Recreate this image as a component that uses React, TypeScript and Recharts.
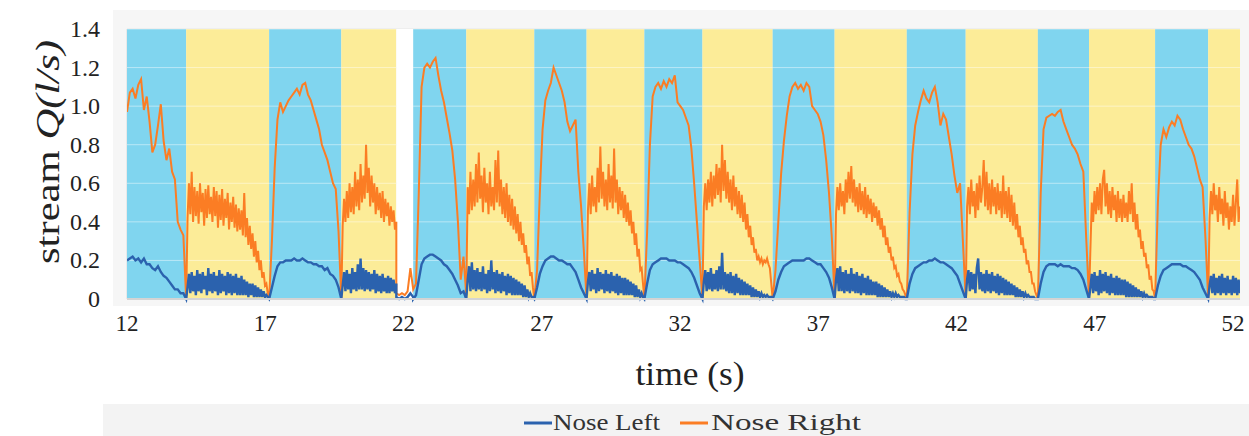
import React from 'react';
import {
  LineChart,
  Line,
  XAxis,
  YAxis,
  CartesianGrid,
  ReferenceArea,
  ReferenceLine,
} from 'recharts';

const xTicks = [12, 17, 22, 27, 32, 37, 42, 47, 52];
const yTicks = [0, 0.2, 0.4, 0.6, 0.8, 1.0, 1.2, 1.4];

// breathing phases: edges in seconds, one kind per interval
const phaseEdges = [
  12, 14.14, 17.14, 19.75, 21.74, 22.35, 24.27, 26.73, 28.62, 30.71,
  32.81, 35.35, 37.59, 40.2, 42.33, 44.94, 46.79, 49.18, 51.1, 52.25,
];
const phaseKinds = [
  'in', 'out', 'in', 'out', 'pause', 'in', 'out', 'in', 'out', 'in',
  'out', 'in', 'out', 'in', 'out', 'in', 'out', 'in', 'out',
];

// samples per phase, evenly spaced from the phase start to its end
const noseRightByPhase = [
  // 12.00 - 14.14
  [0.97, 1.07, 1.09, 1.04, 1.11, 1.14, 0.98, 1.05, 0.92, 0.76, 0.80, 0.90, 1.01, 0.82, 0.72, 0.78, 0.66, 0.62, 0.40, 0.36, 0.33, 0.00],
  // 14.14 - 17.14
  [0.00, 0.42, 0.60, 0.44, 0.66, 0.40, 0.58, 0.43, 0.56, 0.39,
   0.60, 0.45, 0.55, 0.38, 0.57, 0.42, 0.59, 0.44, 0.53, 0.40,
   0.58, 0.43, 0.56, 0.37, 0.54, 0.41, 0.57, 0.38, 0.52, 0.42,
   0.55, 0.36, 0.50, 0.40, 0.53, 0.37, 0.49, 0.35, 0.47, 0.36,
   0.46, 0.33, 0.55, 0.32, 0.42, 0.28, 0.38, 0.26, 0.34, 0.22,
   0.30, 0.19, 0.25, 0.15, 0.20, 0.11, 0.14, 0.07, 0.08, 0.03, 0.00],
  // 17.14 - 19.75
  [0.00, 0.30, 0.68, 0.93, 1.02, 0.97, 1.00, 1.03, 1.05, 1.07, 1.09, 1.06, 1.11, 1.12, 1.06, 1.03, 0.98, 0.93, 0.88, 0.80, 0.76, 0.72, 0.66, 0.60, 0.57, 0.35, 0.00],
  // 19.75 - 21.74
  [0.00, 0.38, 0.52, 0.40, 0.56, 0.42, 0.60, 0.45, 0.58, 0.44,
   0.66, 0.48, 0.62, 0.46, 0.70, 0.50, 0.64, 0.52, 0.80, 0.55,
   0.68, 0.48, 0.64, 0.50, 0.60, 0.44, 0.58, 0.46, 0.55, 0.42,
   0.56, 0.40, 0.52, 0.43, 0.50, 0.38, 0.48, 0.40, 0.46, 0.36, 0.40],
  // 21.74 - 22.35 pause
  [0.03, 0.02, 0.03, 0.02, 0.04, 0.16, 0.05],
  // 22.35 - 24.27
  [0.05, 0.08, 0.55, 1.10, 1.20, 1.22, 1.20, 1.23, 1.25, 1.16, 1.08, 1.02, 0.94, 0.86, 0.77, 0.62, 0.40, 0.10, 0.22, 0.02],
  // 24.27 - 26.73
  [0.02, 0.58, 0.44, 0.66, 0.46, 0.62, 0.48, 0.70, 0.50, 0.76,
   0.52, 0.64, 0.45, 0.68, 0.50, 0.60, 0.44, 0.66, 0.48, 0.58,
   0.46, 0.72, 0.50, 0.77, 0.48, 0.62, 0.44, 0.58, 0.42, 0.60,
   0.40, 0.54, 0.38, 0.52, 0.36, 0.48, 0.34, 0.44, 0.30, 0.40,
   0.28, 0.34, 0.24, 0.28, 0.18, 0.22, 0.12, 0.14, 0.06, 0.00],
  // 26.73 - 28.62
  [0.00, 0.15, 0.55, 0.88, 1.03, 1.08, 1.12, 1.20, 1.16, 1.12, 1.08, 1.02, 0.92, 0.87, 0.90, 0.93, 0.66, 0.48, 0.25, 0.00],
  // 28.62 - 30.71
  [0.00, 0.46, 0.60, 0.44, 0.64, 0.48, 0.58, 0.45, 0.68, 0.50,
   0.79, 0.52, 0.66, 0.48, 0.62, 0.46, 0.70, 0.50, 0.64, 0.47,
   0.78, 0.50, 0.62, 0.44, 0.58, 0.46, 0.56, 0.42, 0.54, 0.40,
   0.50, 0.38, 0.46, 0.34, 0.40, 0.28, 0.34, 0.22, 0.26, 0.15, 0.16, 0.08, 0.00],
  // 30.71 - 32.81
  [0.00, 0.35, 0.80, 1.05, 1.10, 1.12, 1.09, 1.13, 1.10, 1.14, 1.12, 1.16, 1.02, 1.00, 0.98, 0.94, 0.90, 0.78, 0.60, 0.40, 0.20, 0.00],
  // 32.81 - 35.35
  [0.00, 0.48, 0.60, 0.46, 0.62, 0.50, 0.66, 0.48, 0.64, 0.52,
   0.70, 0.54, 0.68, 0.50, 0.80, 0.56, 0.72, 0.52, 0.66, 0.50,
   0.62, 0.46, 0.64, 0.48, 0.58, 0.44, 0.56, 0.42, 0.54, 0.40,
   0.50, 0.36, 0.44, 0.32, 0.38, 0.28, 0.32, 0.24, 0.26, 0.20,
   0.22, 0.19, 0.21, 0.18, 0.20, 0.19, 0.21, 0.18, 0.16, 0.08, 0.00],
  // 35.35 - 37.59
  [0.00, 0.15, 0.40, 0.65, 0.82, 0.95, 1.05, 1.10, 1.12, 1.09, 1.11, 1.08, 1.12, 1.10, 1.00, 0.98, 0.96, 0.92, 0.85, 0.72, 0.55, 0.32, 0.00],
  // 37.59 - 40.20
  [0.00, 0.44, 0.58, 0.46, 0.60, 0.48, 0.56, 0.44, 0.62, 0.50,
   0.66, 0.52, 0.69, 0.50, 0.62, 0.48, 0.58, 0.45, 0.60, 0.46,
   0.56, 0.44, 0.58, 0.42, 0.54, 0.44, 0.52, 0.40, 0.50, 0.42,
   0.48, 0.38, 0.46, 0.36, 0.42, 0.32, 0.38, 0.28, 0.32, 0.24,
   0.27, 0.20, 0.22, 0.16, 0.17, 0.12, 0.13, 0.09, 0.08, 0.05, 0.04, 0.02, 0.00],
  // 40.20 - 42.33
  [0.00, 0.45, 0.75, 0.90, 0.97, 1.03, 1.08, 1.04, 1.02, 1.07, 1.10, 1.02, 0.90, 0.96, 0.93, 0.84, 0.75, 0.64, 0.55, 0.60, 0.30, 0.00],
  // 42.33 - 44.94
  [0.00, 0.48, 0.58, 0.44, 0.62, 0.48, 0.56, 0.42, 0.60, 0.46,
   0.64, 0.50, 0.58, 0.72, 0.48, 0.66, 0.46, 0.60, 0.44, 0.62,
   0.48, 0.58, 0.44, 0.60, 0.46, 0.56, 0.42, 0.64, 0.44, 0.56,
   0.42, 0.58, 0.40, 0.54, 0.38, 0.50, 0.36, 0.44, 0.32, 0.38,
   0.28, 0.32, 0.24, 0.26, 0.18, 0.20, 0.14, 0.14, 0.08, 0.08, 0.04, 0.02, 0.00],
  // 44.94 - 46.79
  [0.00, 0.55, 0.88, 0.94, 0.95, 0.96, 0.95, 0.97, 0.98, 0.92, 0.88, 0.84, 0.80, 0.78, 0.75, 0.70, 0.66, 0.32, 0.00],
  // 46.79 - 49.18
  [0.00, 0.26, 0.50, 0.40, 0.56, 0.44, 0.58, 0.46, 0.60, 0.44,
   0.62, 0.67, 0.48, 0.60, 0.44, 0.56, 0.42, 0.58, 0.46, 0.54,
   0.40, 0.56, 0.42, 0.52, 0.40, 0.54, 0.42, 0.50, 0.40, 0.56,
   0.44, 0.60, 0.40, 0.50, 0.36, 0.44, 0.32, 0.36, 0.26, 0.30,
   0.22, 0.24, 0.16, 0.18, 0.10, 0.12, 0.05, 0.04, 0.00],
  // 49.18 - 51.10
  [0.00, 0.50, 0.80, 0.88, 0.84, 0.89, 0.92, 0.90, 0.95, 0.93, 0.88, 0.84, 0.80, 0.78, 0.74, 0.68, 0.62, 0.58, 0.32, 0.00],
  // 51.10 - 52.25
  [0.00, 0.42, 0.56, 0.44, 0.60, 0.46, 0.54, 0.40, 0.58, 0.44,
   0.52, 0.38, 0.56, 0.42, 0.50, 0.36, 0.48, 0.40, 0.54, 0.38,
   0.50, 0.62, 0.40, 0.48],
];

const noseLeftByPhase = [
  // 12.00 - 14.14
  [0.20, 0.21, 0.22, 0.20, 0.21, 0.19, 0.21, 0.18, 0.18, 0.16, 0.15, 0.17, 0.14, 0.12, 0.11, 0.09, 0.07, 0.05, 0.05, 0.03, 0.03, 0.00],
  // 14.14 - 17.14
  [0.00, 0.06, 0.13, 0.03, 0.14, 0.04, 0.12, 0.02, 0.15, 0.04,
   0.13, 0.03, 0.14, 0.05, 0.12, 0.02, 0.16, 0.04, 0.13, 0.03,
   0.14, 0.04, 0.12, 0.02, 0.15, 0.03, 0.13, 0.04, 0.12, 0.02,
   0.14, 0.03, 0.13, 0.02, 0.12, 0.03, 0.13, 0.02, 0.11, 0.02,
   0.12, 0.02, 0.10, 0.02, 0.09, 0.01, 0.08, 0.02, 0.08, 0.01,
   0.07, 0.01, 0.06, 0.01, 0.05, 0.01, 0.04, 0.01, 0.02, 0.01, 0.00],
  // 17.14 - 19.75
  [0.00, 0.06, 0.12, 0.17, 0.19, 0.19, 0.20, 0.20, 0.20, 0.21, 0.20, 0.20, 0.21, 0.20, 0.19, 0.19, 0.18, 0.18, 0.17, 0.17, 0.15, 0.16, 0.13, 0.12, 0.10, 0.06, 0.00],
  // 19.75 - 21.74
  [0.00, 0.07, 0.14, 0.04, 0.15, 0.05, 0.13, 0.03, 0.16, 0.05,
   0.14, 0.04, 0.18, 0.05, 0.21, 0.05, 0.16, 0.04, 0.15, 0.05,
   0.14, 0.04, 0.13, 0.05, 0.15, 0.03, 0.13, 0.04, 0.12, 0.03,
   0.13, 0.04, 0.11, 0.03, 0.12, 0.03, 0.11, 0.04, 0.10, 0.03, 0.08],
  // 21.74 - 22.35 pause
  [0.01, 0.00, 0.01, 0.00, 0.01, 0.03, 0.01],
  // 22.35 - 24.27
  [0.00, 0.02, 0.10, 0.18, 0.21, 0.22, 0.23, 0.23, 0.22, 0.21, 0.20, 0.18, 0.17, 0.15, 0.13, 0.10, 0.07, 0.03, 0.04, 0.00],
  // 24.27 - 26.73
  [0.00, 0.10, 0.17, 0.04, 0.19, 0.05, 0.15, 0.04, 0.16, 0.05,
   0.14, 0.04, 0.17, 0.05, 0.13, 0.03, 0.15, 0.04, 0.20, 0.05,
   0.14, 0.03, 0.15, 0.04, 0.13, 0.03, 0.14, 0.04, 0.12, 0.02,
   0.13, 0.03, 0.12, 0.02, 0.11, 0.02, 0.10, 0.02, 0.09, 0.02,
   0.08, 0.01, 0.07, 0.01, 0.05, 0.01, 0.03, 0.01, 0.01, 0.00],
  // 26.73 - 28.62
  [0.00, 0.06, 0.13, 0.17, 0.20, 0.21, 0.22, 0.22, 0.21, 0.20, 0.20, 0.19, 0.18, 0.18, 0.16, 0.14, 0.10, 0.06, 0.03, 0.00],
  // 28.62 - 30.71
  [0.00, 0.09, 0.14, 0.04, 0.15, 0.05, 0.13, 0.03, 0.16, 0.04,
   0.14, 0.05, 0.13, 0.03, 0.15, 0.04, 0.13, 0.03, 0.14, 0.04,
   0.12, 0.03, 0.13, 0.02, 0.12, 0.03, 0.11, 0.02, 0.11, 0.02,
   0.10, 0.02, 0.09, 0.02, 0.08, 0.01, 0.07, 0.01, 0.05, 0.01, 0.03, 0.01, 0.00],
  // 30.71 - 32.81
  [0.00, 0.08, 0.15, 0.18, 0.19, 0.20, 0.21, 0.21, 0.21, 0.20, 0.20, 0.20, 0.19, 0.19, 0.18, 0.17, 0.16, 0.14, 0.11, 0.07, 0.03, 0.00],
  // 32.81 - 35.35
  [0.00, 0.09, 0.15, 0.04, 0.14, 0.05, 0.16, 0.04, 0.13, 0.05,
   0.15, 0.04, 0.17, 0.05, 0.24, 0.05, 0.14, 0.04, 0.13, 0.03,
   0.14, 0.03, 0.12, 0.02, 0.13, 0.03, 0.11, 0.02, 0.10, 0.02,
   0.09, 0.02, 0.08, 0.02, 0.07, 0.01, 0.06, 0.01, 0.05, 0.01,
   0.04, 0.01, 0.03, 0.01, 0.02, 0.01, 0.02, 0.01, 0.01, 0.01, 0.00],
  // 35.35 - 37.59
  [0.00, 0.04, 0.10, 0.14, 0.17, 0.18, 0.19, 0.20, 0.20, 0.20, 0.20, 0.20, 0.21, 0.21, 0.20, 0.19, 0.18, 0.18, 0.16, 0.14, 0.11, 0.06, 0.00],
  // 37.59 - 40.20
  [0.00, 0.10, 0.16, 0.04, 0.17, 0.04, 0.14, 0.03, 0.15, 0.04,
   0.13, 0.03, 0.16, 0.04, 0.13, 0.03, 0.14, 0.03, 0.12, 0.02,
   0.13, 0.03, 0.11, 0.02, 0.12, 0.02, 0.10, 0.02, 0.09, 0.02,
   0.09, 0.01, 0.08, 0.01, 0.07, 0.01, 0.06, 0.01, 0.05, 0.01,
   0.04, 0.01, 0.03, 0.01, 0.03, 0.01, 0.02, 0.01, 0.01, 0.01, 0.01, 0.00, 0.00],
  // 40.20 - 42.33
  [0.00, 0.08, 0.13, 0.16, 0.17, 0.18, 0.19, 0.19, 0.20, 0.20, 0.21, 0.20, 0.19, 0.19, 0.18, 0.17, 0.16, 0.14, 0.12, 0.08, 0.04, 0.00],
  // 42.33 - 44.94
  [0.00, 0.10, 0.15, 0.04, 0.14, 0.05, 0.13, 0.03, 0.16, 0.21,
   0.05, 0.14, 0.04, 0.13, 0.03, 0.15, 0.04, 0.13, 0.03, 0.14,
   0.04, 0.12, 0.03, 0.13, 0.02, 0.12, 0.03, 0.11, 0.02, 0.10,
   0.02, 0.09, 0.02, 0.08, 0.02, 0.07, 0.01, 0.06, 0.01, 0.05,
   0.01, 0.04, 0.01, 0.03, 0.01, 0.02, 0.01, 0.01, 0.01, 0.01, 0.00, 0.00, 0.00],
  // 44.94 - 46.79
  [0.00, 0.08, 0.14, 0.17, 0.18, 0.18, 0.18, 0.17, 0.18, 0.17, 0.17, 0.17, 0.16, 0.16, 0.15, 0.13, 0.10, 0.05, 0.00],
  // 46.79 - 49.18
  [0.00, 0.06, 0.13, 0.03, 0.14, 0.04, 0.12, 0.02, 0.15, 0.03,
   0.13, 0.04, 0.14, 0.03, 0.12, 0.02, 0.13, 0.03, 0.11, 0.02,
   0.12, 0.02, 0.11, 0.02, 0.10, 0.02, 0.10, 0.01, 0.09, 0.01,
   0.08, 0.01, 0.07, 0.01, 0.06, 0.01, 0.05, 0.01, 0.04, 0.01,
   0.03, 0.01, 0.02, 0.01, 0.01, 0.01, 0.01, 0.00, 0.00],
  // 49.18 - 51.10
  [0.00, 0.07, 0.12, 0.15, 0.16, 0.17, 0.18, 0.18, 0.18, 0.18, 0.17, 0.17, 0.16, 0.15, 0.14, 0.12, 0.10, 0.06, 0.03, 0.00],
  // 51.10 - 52.25
  [0.00, 0.07, 0.12, 0.03, 0.13, 0.02, 0.11, 0.03, 0.12, 0.02,
   0.13, 0.03, 0.11, 0.02, 0.12, 0.03, 0.10, 0.02, 0.12, 0.03,
   0.11, 0.02, 0.10, 0.03],
];

const phaseFill: Record<string, string> = {
  in: '#80d5ef',
  out: '#fcec98',
  pause: '#ffffff',
};

const toSeries = (byPhase: number[][]) =>
  byPhase.flatMap((vals, i) => {
    const from = phaseEdges[i];
    const to = phaseEdges[i + 1];
    return vals.map((v, k) => ({ t: from + (k * (to - from)) / (vals.length - 1), v }));
  });

const leftSeries = toSeries(noseLeftByPhase);
const rightSeries = toSeries(noseRightByPhase);

const FONT = '"Liberation Serif", "DejaVu Serif", serif';

const XTick = ({ x, y, payload }: any) => (
  <text x={x} y={y + 32} textAnchor="middle" fontFamily={FONT} fontSize={23} fill="#222">
    {payload.value}
  </text>
);

const YTick = ({ x, y, payload }: any) => (
  <text x={x} y={y + 8} textAnchor="end" fontFamily={FONT} fontSize={24} fill="#222">
    {payload.value === 0 ? '0' : Number(payload.value).toFixed(1)}
  </text>
);

const YTitle = () => (
  <text
    transform="translate(47,152) rotate(-90)"
    textAnchor="middle"
    dominantBaseline="central"
    fontFamily={FONT}
    fontSize={34}
    fill="#222"
    textLength={224}
    lengthAdjust="spacingAndGlyphs"
  >
    stream <tspan fontStyle="italic">Q(l/s)</tspan>
  </text>
);

const XTitle = () => (
  <text
    x={690}
    y={385}
    textAnchor="middle"
    fontFamily={FONT}
    fontSize={34}
    fill="#222"
    textLength={109}
    lengthAdjust="spacingAndGlyphs"
  >
    time (s)
  </text>
);

const LegendBox = () => (
  <svg width={1146} height={32} style={{ display: 'block' }}>
    <rect x={0} y={0} width={1146} height={32} fill="#f3f3f3" />
    <line x1={421} x2={449} y1={19} y2={19} stroke="#2b62ae" strokeWidth={3} />
    <text x={450} y={26} fontFamily={FONT} fontSize={24} fill="#333" textLength={107} lengthAdjust="spacingAndGlyphs">
      Nose Left
    </text>
    <line x1={577} x2={605} y1={19} y2={19} stroke="#fb7d24" strokeWidth={3} />
    <text x={608} y={26} fontFamily={FONT} fontSize={24} fill="#333" textLength={150} lengthAdjust="spacingAndGlyphs">
      Nose Right
    </text>
  </svg>
);

export default function App() {
  return (
    <div style={{ position: 'absolute', left: 0, top: 0, width: 1249, height: 436, background: '#fff' }}>
      <div style={{ position: 'absolute', left: 113, top: 10, width: 1136, height: 296, background: '#f6f6f6' }} />
      <div style={{ position: 'absolute', left: 103, top: 404 }}>
        <LegendBox />
      </div>
      <div style={{ position: 'absolute', left: 0, top: 0 }}>
        <LineChart
          width={1249}
          height={436}
          margin={{ top: 29, right: 9, left: 67, bottom: 107 }}
          style={{ fontFamily: FONT }}
        >
          <CartesianGrid stroke="#dcdcdc" horizontalValues={yTicks} verticalValues={xTicks} />
          {phaseKinds.map((kind, i) => (
            <ReferenceArea
              key={i}
              x1={phaseEdges[i]}
              x2={phaseEdges[i + 1]}
              y1={0}
              y2={1.4}
              fill={phaseFill[kind]}
              fillOpacity={1}
              stroke="none"
              ifOverflow="hidden"
            />
          ))}
          {yTicks.slice(1).map((y) => (
            <ReferenceLine key={y} y={y} stroke="#ffffff" strokeOpacity={0.45} strokeWidth={1} />
          ))}
          <XAxis
            type="number"
            dataKey="t"
            domain={[12, 52.25]}
            ticks={xTicks}
            allowDataOverflow
            height={30}
            tickLine={false}
            tickSize={0}
            tickMargin={0}
            axisLine={{ stroke: '#d4d4d4', strokeWidth: 2 }}
            tick={<XTick />}
            label={{ content: () => <XTitle /> }}
          />
          <YAxis
            type="number"
            domain={[0, 1.4]}
            ticks={yTicks}
            width={60}
            tickLine={false}
            axisLine={false}
            tickSize={0}
            tickMargin={27}
            tick={<YTick />}
            label={{ content: () => <YTitle /> }}
          />
          <Line
            data={rightSeries}
            type="linear"
            dataKey="v"
            name="Nose Right"
            stroke="#fb7d24"
            strokeWidth={2}
            dot={false}
            isAnimationActive={false}
          />
          <Line
            data={leftSeries}
            type="linear"
            dataKey="v"
            name="Nose Left"
            stroke="#2b62ae"
            strokeWidth={2.4}
            dot={false}
            isAnimationActive={false}
          />
        </LineChart>
      </div>
    </div>
  );
}
